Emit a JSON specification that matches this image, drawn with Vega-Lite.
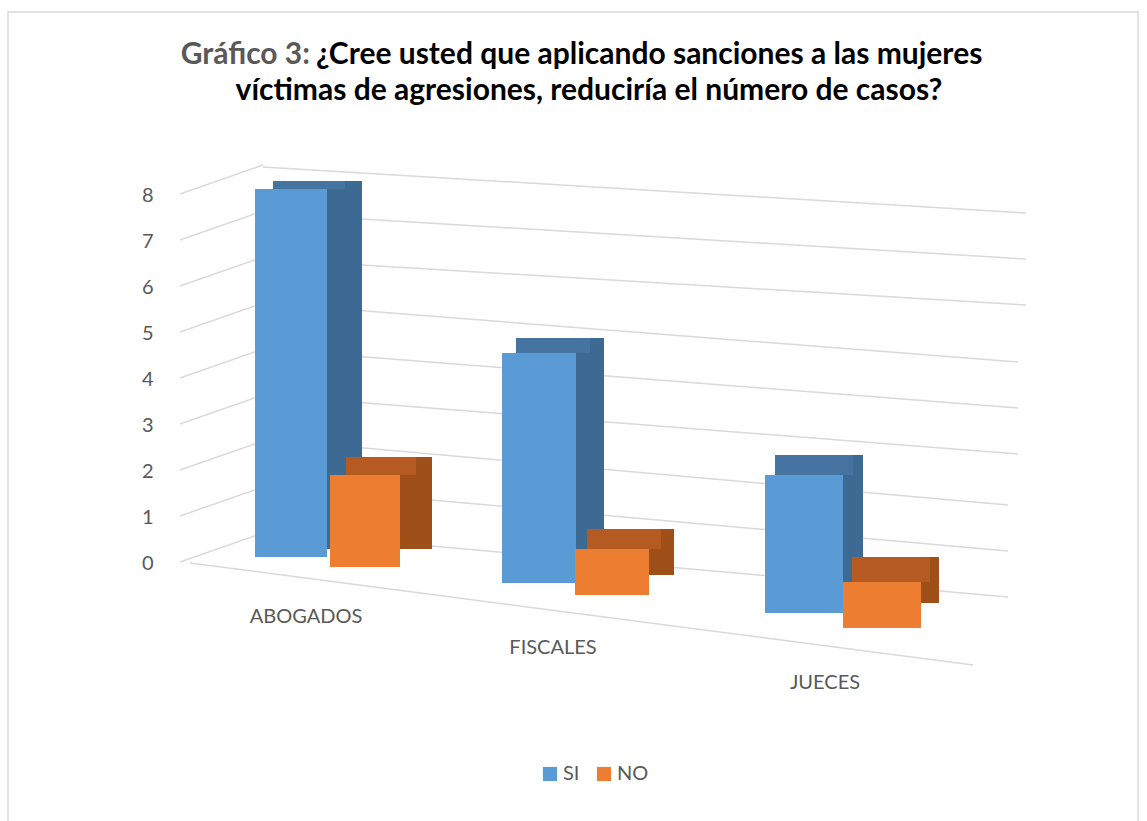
{"$schema":"https://vega.github.io/schema/vega-lite/v6.json","width":1130,"height":815,"autosize":"none","padding":{"left":8,"top":12,"right":9,"bottom":0},"background":"#ffffff","config":{"view":{"stroke":"#d9d9d9","strokeWidth":1.5},"font":"Lato"},
"data":{"values":[{"cat":"ABOGADOS","s":"SI","val":8},{"cat":"ABOGADOS","s":"NO","val":2},{"cat":"FISCALES","s":"SI","val":5},{"cat":"FISCALES","s":"NO","val":1},{"cat":"JUECES","s":"SI","val":3},{"cat":"JUECES","s":"NO","val":1}]},
"encoding":{"x":{"field":"cat","type":"nominal","axis":null,"scale":{"type":"band","domain":["ABOGADOS","FISCALES","JUECES"],"range":[184,964]}},"y":{"field":"val","type":"quantitative","scale":{"domain":[0,8],"range":[551,183],"nice":false},"axis":{"title":null,"domain":false,"ticks":false,"grid":false,"offset":-145,"tickCount":9,"labelFontSize":20,"labelColor":"#595959","labelPadding":0,"labelFont":"Lato"}}},
"layer":[
{"data":{"values":[{"g":6},{"g":7},{"g":8}]},"mark":{"type":"rule","color":"#d9d9d9","strokeWidth":1.5,"xOffset":-59,"yOffset":-28,"x2Offset":184,"y2Offset":18},"encoding":{"x":{"datum":"ABOGADOS"},"x2":{"datum":"JUECES"},"y":{"field":"g","type":"quantitative"},"y2":{"field":"g"}}},
{"data":{"values":[{"g":3},{"g":4},{"g":5}]},"mark":{"type":"rule","color":"#d9d9d9","strokeWidth":1.5,"xOffset":-59,"yOffset":-30,"x2Offset":176,"y2Offset":29},"encoding":{"x":{"datum":"ABOGADOS"},"x2":{"datum":"JUECES"},"y":{"field":"g","type":"quantitative"},"y2":{"field":"g"}}},
{"data":{"values":[{"g":0},{"g":1},{"g":2}]},"mark":{"type":"rule","color":"#d9d9d9","strokeWidth":1.5,"xOffset":-59,"yOffset":-32,"x2Offset":166,"y2Offset":34},"encoding":{"x":{"datum":"ABOGADOS"},"x2":{"datum":"JUECES"},"y":{"field":"g","type":"quantitative"},"y2":{"field":"g"}}},
{"data":{"values":[{"g":0},{"g":1},{"g":2},{"g":3},{"g":4},{"g":5},{"g":6},{"g":7},{"g":8}]},"mark":{"type":"rule","color":"#d9d9d9","strokeWidth":1.5,"xOffset":-142,"yOffset":-1,"x2Offset":-59,"y2Offset":-30},"encoding":{"x":{"datum":"ABOGADOS"},"x2":{"datum":"ABOGADOS"},"y":{"field":"g","type":"quantitative"},"y2":{"field":"g"}}},
{"data":{"values":[{"g":0}]},"mark":{"type":"rule","color":"#d9d9d9","strokeWidth":1.5,"xOffset":-132,"yOffset":0,"x2Offset":131,"y2Offset":102},"encoding":{"x":{"datum":"ABOGADOS"},"x2":{"datum":"JUECES"},"y":{"field":"g","type":"quantitative"},"y2":{"field":"g"}}},

{"transform":[{"filter":"datum.cat=='ABOGADOS'&&datum.s=='SI'"}],"mark":{"type":"bar","size":72,"color":"#3d6a92","xOffset":4,"yOffset":-14,"y2Offset":-14}},
{"transform":[{"filter":"datum.cat=='ABOGADOS'&&datum.s=='SI'"}],"mark":{"type":"bar","size":72,"color":"#44749f","xOffset":-13,"yOffset":-14,"y2Offset":-6},"encoding":{"y2":{"field":"val"}}},
{"transform":[{"filter":"datum.cat=='ABOGADOS'&&datum.s=='SI'"}],"mark":{"type":"bar","size":72,"xOffset":-31,"yOffset":-6,"y2Offset":-6},"encoding":{"color":{"field":"s","type":"nominal"}}},
{"transform":[{"filter":"datum.cat=='ABOGADOS'&&datum.s=='NO'"}],"mark":{"type":"bar","size":70,"color":"#9e5018","xOffset":75,"yOffset":-14,"y2Offset":-14}},
{"transform":[{"filter":"datum.cat=='ABOGADOS'&&datum.s=='NO'"}],"mark":{"type":"bar","size":70,"color":"#b55a21","xOffset":59,"yOffset":-14,"y2Offset":4},"encoding":{"y2":{"field":"val"}}},
{"transform":[{"filter":"datum.cat=='ABOGADOS'&&datum.s=='NO'"}],"mark":{"type":"bar","size":70,"xOffset":43,"yOffset":4,"y2Offset":4},"encoding":{"color":{"field":"s","type":"nominal"}}},

{"transform":[{"filter":"datum.cat=='FISCALES'&&datum.s=='SI'"}],"mark":{"type":"bar","size":74,"color":"#3d6a92","xOffset":-15,"yOffset":5,"y2Offset":5}},
{"transform":[{"filter":"datum.cat=='FISCALES'&&datum.s=='SI'"}],"mark":{"type":"bar","size":74,"color":"#44749f","xOffset":-29,"yOffset":5,"y2Offset":20},"encoding":{"y2":{"field":"val"}}},
{"transform":[{"filter":"datum.cat=='FISCALES'&&datum.s=='SI'"}],"mark":{"type":"bar","size":74,"xOffset":-43,"yOffset":20,"y2Offset":20},"encoding":{"color":{"field":"s","type":"nominal"}}},
{"transform":[{"filter":"datum.cat=='FISCALES'&&datum.s=='NO'"}],"mark":{"type":"bar","size":74,"color":"#9e5018","xOffset":55,"yOffset":12,"y2Offset":12}},
{"transform":[{"filter":"datum.cat=='FISCALES'&&datum.s=='NO'"}],"mark":{"type":"bar","size":74,"color":"#b55a21","xOffset":42,"yOffset":12,"y2Offset":32},"encoding":{"y2":{"field":"val"}}},
{"transform":[{"filter":"datum.cat=='FISCALES'&&datum.s=='NO'"}],"mark":{"type":"bar","size":74,"xOffset":30,"yOffset":32,"y2Offset":32},"encoding":{"color":{"field":"s","type":"nominal"}}},

{"transform":[{"filter":"datum.cat=='JUECES'&&datum.s=='SI'"}],"mark":{"type":"bar","size":78,"color":"#3d6a92","xOffset":-18,"yOffset":30,"y2Offset":30}},
{"transform":[{"filter":"datum.cat=='JUECES'&&datum.s=='SI'"}],"mark":{"type":"bar","size":78,"color":"#44749f","xOffset":-28,"yOffset":30,"y2Offset":50},"encoding":{"y2":{"field":"val"}}},
{"transform":[{"filter":"datum.cat=='JUECES'&&datum.s=='SI'"}],"mark":{"type":"bar","size":78,"xOffset":-38,"yOffset":50,"y2Offset":50},"encoding":{"color":{"field":"s","type":"nominal"}}},
{"transform":[{"filter":"datum.cat=='JUECES'&&datum.s=='NO'"}],"mark":{"type":"bar","size":78,"color":"#9e5018","xOffset":58,"yOffset":40,"y2Offset":40}},
{"transform":[{"filter":"datum.cat=='JUECES'&&datum.s=='NO'"}],"mark":{"type":"bar","size":78,"color":"#b55a21","xOffset":49,"yOffset":40,"y2Offset":65},"encoding":{"y2":{"field":"val"}}},
{"transform":[{"filter":"datum.cat=='JUECES'&&datum.s=='NO'"}],"mark":{"type":"bar","size":78,"xOffset":40,"yOffset":65,"y2Offset":65},"encoding":{"color":{"field":"s","type":"nominal","scale":{"domain":["SI","NO"],"range":["#5b9bd5","#ed7d31"]},"legend":{"title":null,"orient":"none","legendX":532,"legendY":752,"direction":"horizontal","symbolType":"square","symbolSize":200,"symbolStrokeWidth":0,"symbolOpacity":1,"labelFontSize":20,"labelColor":"#595959","labelFont":"Lato","columnPadding":14,"labelOffset":3}}}},

{"data":{"values":[{"g":0}]},"mark":{"type":"text","text":"ABOGADOS","fontSize":20,"color":"#595959","xOffset":-16,"yOffset":54},"encoding":{"x":{"datum":"ABOGADOS"},"y":{"field":"g","type":"quantitative"}}},
{"data":{"values":[{"g":0}]},"mark":{"type":"text","text":"FISCALES","fontSize":20,"color":"#595959","xOffset":-29,"yOffset":85},"encoding":{"x":{"datum":"FISCALES"},"y":{"field":"g","type":"quantitative"}}},
{"data":{"values":[{"g":0}]},"mark":{"type":"text","text":"JUECES","fontSize":20,"color":"#595959","xOffset":-17,"yOffset":120},"encoding":{"x":{"datum":"JUECES"},"y":{"field":"g","type":"quantitative"}}},

{"data":{"values":[{"g":11.04}]},"mark":{"type":"text","text":"Gráfico 3:","align":"right","fontSize":30,"fontWeight":"bold","color":"#595959","xOffset":-272},"encoding":{"x":{"datum":"FISCALES"},"y":{"field":"g","type":"quantitative"}}},
{"data":{"values":[{"g":11.04}]},"mark":{"type":"text","text":"¿Cree usted que aplicando sanciones a las mujeres","align":"left","fontSize":30,"fontWeight":"bold","color":"#000000","xOffset":-266},"encoding":{"x":{"datum":"FISCALES"},"y":{"field":"g","type":"quantitative"}}},
{"data":{"values":[{"g":10.26}]},"mark":{"type":"text","text":"víctimas de agresiones, reduciría el número de casos?","align":"center","fontSize":30,"fontWeight":"bold","color":"#000000","xOffset":7},"encoding":{"x":{"datum":"FISCALES"},"y":{"field":"g","type":"quantitative"}}}
]}
